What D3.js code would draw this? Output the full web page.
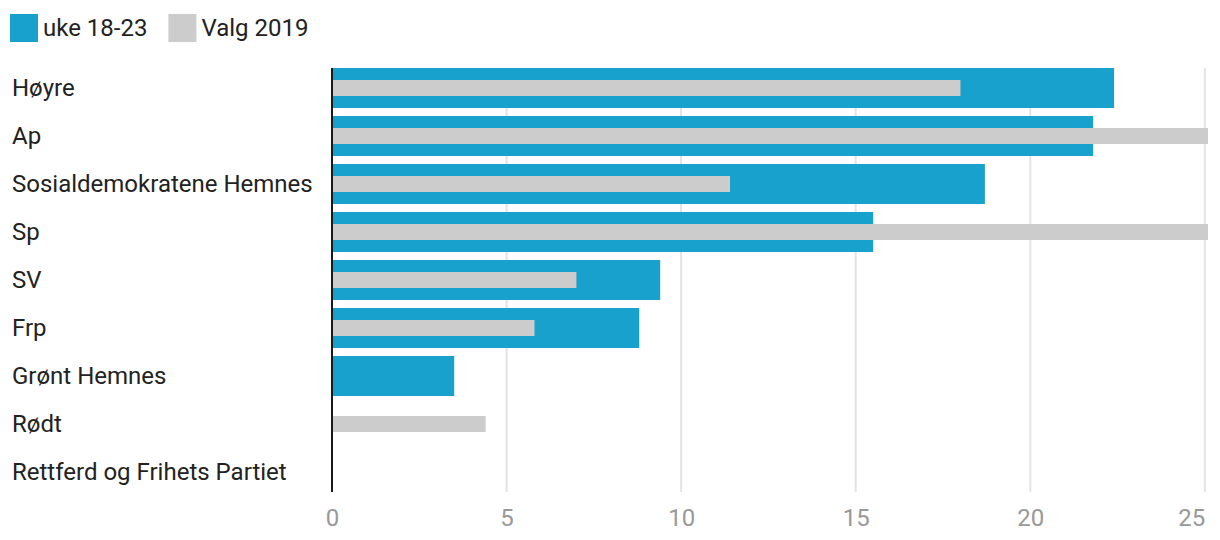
<!DOCTYPE html>
<html>
<head>
<meta charset="utf-8">
<script src="https://cdn.jsdelivr.net/npm/d3@7"></script>
<style>
  html, body { margin: 0; padding: 0; background: #fff; }
  svg { display: block; font-family: Roboto, "Noto Sans", sans-serif; }
</style>
</head>
<body>
<svg id="chart" width="1220" height="540"></svg>
<script>
const categories = ["Høyre", "Ap", "Sosialdemokratene Hemnes", "Sp", "SV", "Frp", "Grønt Hemnes", "Rødt", "Rettferd og Frihets Partiet"];
const seriesNames = ["uke 18-23", "Valg 2019"];
const uke1823 = [22.4, 21.8, 18.7, 15.5, 9.4, 8.8, 3.5, 0, 0];
const valg2019 = [18.0, 26.5, 11.4, 33.7, 7.0, 5.8, 0, 4.4, 0];
const tickValues = [0, 5, 10, 15, 20, 25];
const colors = ["#19a1cd", "#cccccc"];

const svg = d3.select("#chart");
const margin = { left: 332, right: 12, top: 64, bottom: 44 };
const W = 1220, H = 540;

const x = d3.scaleLinear().domain([0, 25.09]).range([margin.left, W - margin.right]);
const y = d3.scaleBand().domain(categories).range([margin.top, H - margin.bottom])
  .paddingInner(1 / 6).paddingOuter(1 / 12);

const plotTop = y(categories[0]);
const plotBottom = y(categories[categories.length - 1]) + y.bandwidth();

// clip
svg.append("defs").append("clipPath").attr("id", "clip")
  .append("rect").attr("x", margin.left).attr("y", 0)
  .attr("width", W - margin.right - margin.left).attr("height", H);

// gridlines
svg.append("g").selectAll("line").data(tickValues.filter(d => d > 0)).join("line")
  .attr("x1", d => x(d)).attr("x2", d => x(d))
  .attr("y1", plotTop).attr("y2", plotBottom)
  .attr("stroke", "#e3e3e3").attr("stroke-width", 2);

// x tick labels via axis
const xAxis = d3.axisBottom(x).tickValues(tickValues).tickSize(0).tickPadding(0).tickFormat(d3.format("d"));
const gx = svg.append("g").attr("transform", `translate(0,${plotBottom + 26})`).call(xAxis);
gx.select(".domain").remove();
gx.selectAll("text").attr("fill", "#999999").attr("font-size", 24)
  .attr("font-family", "Roboto, sans-serif").attr("dy", "0.35em").attr("y", 0);
gx.selectAll(".tick").filter(d => d === tickValues[tickValues.length - 1])
  .select("text").attr("text-anchor", "end").attr("x", 0);

// bars
const bars = svg.append("g").attr("clip-path", "url(#clip)");
bars.selectAll("rect.s1").data(categories).join("rect").attr("class", "s1")
  .attr("x", x(0)).attr("y", d => y(d))
  .attr("width", (d, i) => x(uke1823[i]) - x(0))
  .attr("height", y.bandwidth())
  .attr("fill", colors[0]);
const inner = 16;
bars.selectAll("rect.s2").data(categories).join("rect").attr("class", "s2")
  .attr("x", x(0)).attr("y", d => y(d) + (y.bandwidth() - inner) / 2)
  .attr("width", (d, i) => x(valg2019[i]) - x(0))
  .attr("height", inner)
  .attr("fill", colors[1]);

// baseline
svg.append("line").attr("x1", x(0)).attr("x2", x(0))
  .attr("y1", plotTop).attr("y2", plotBottom)
  .attr("stroke", "#1a1a1a").attr("stroke-width", 2);

// category labels via axis
const yAxis = d3.axisLeft(y).tickSize(0).tickPadding(0);
const gy = svg.append("g").attr("transform", "translate(12,0)").call(yAxis);
gy.select(".domain").remove();
gy.selectAll("text").attr("text-anchor", "start").attr("x", 0)
  .attr("fill", "#222222").attr("font-size", 24).attr("font-family", "Roboto, sans-serif");

// legend
const legend = svg.append("g");
let lx = 10;
seriesNames.forEach((name, i) => {
  legend.append("rect").attr("x", lx).attr("y", 14).attr("width", 28).attr("height", 28).attr("fill", colors[i]);
  const t = legend.append("text").attr("x", lx + 33).attr("y", 28).attr("dy", "0.35em")
    .attr("font-size", 24).attr("fill", "#222222").text(name);
  lx += 33 + t.node().getComputedTextLength() + 21;
});
</script>
</body>
</html>
